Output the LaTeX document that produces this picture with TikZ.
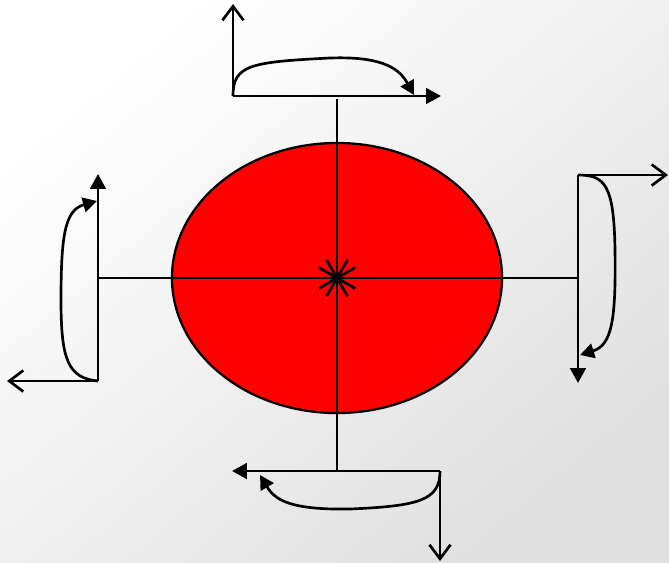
\documentclass[tikz,border=0pt]{standalone}
\usepackage{tikz}
\usetikzlibrary{arrows.meta,shapes.geometric}
\definecolor{Ink}{HTML}{000000}
\definecolor{Disc}{HTML}{FF0000}
\definecolor{BgLight}{HTML}{FFFFFF}
\definecolor{BgDark}{HTML}{E0E0E0}
\tikzset{
  axis/.style={draw=Ink,line width=1.9pt},
  disc/.style={ellipse,draw=Ink,line width=1.6pt,fill=Disc,minimum width=8.25cm,minimum height=6.75cm,inner sep=0pt},
  barArrow/.style={axis,-{Triangle[length=10.5pt,width=11pt]}},
  openArrow/.style={axis,-{Straight Barb[length=10pt,width=15pt,line width=1.9pt]}},
  turnArrow/.style={axis,-{Triangle[length=10pt,width=10.5pt]}}
}
\begin{document}
\begin{tikzpicture}[x=0.025cm,y=-0.025cm,line cap=butt]
\shade[shading=axis,top color=BgLight,bottom color=BgDark,shading angle=40] (0,0) rectangle (669,562);
\useasboundingbox (0,0) rectangle (669,562);
% body
\node[disc] (disc) at (337,278) {};
\coordinate (c) at (337,278);
% corners of the four brackets
\coordinate (topC) at (233,96);  \coordinate (topE) at (441,96);  \coordinate (topN) at (233,4);
\coordinate (rgtC) at (578,175); \coordinate (rgtE) at (578,383); \coordinate (rgtN) at (668,175);
\coordinate (botC) at (440,471); \coordinate (botE) at (232,471); \coordinate (botN) at (440,561);
\coordinate (lftC) at (98,381);  \coordinate (lftE) at (98,174);  \coordinate (lftN) at (7,381);
% axes through the centre
\draw[axis] (98,278)--(578,278);
\draw[axis] (337,99)--(337,471);
\foreach \a in {30,60,120,150}{\draw[axis] (c) ++(\a:21) -- ++(\a+180:42);}
% top
\draw[barArrow] (topC)--(topE);\draw[openArrow] (topC)--(topN);
\draw[turnArrow] (topC) .. controls (233,65) and (250,62) .. (330,58) .. controls (385,56) and (400,70) .. (414,95);
% right
\draw[barArrow] (rgtC)--(rgtE);\draw[openArrow] (rgtC)--(rgtN);
\draw[turnArrow] (rgtC) .. controls (605,175) and (614,185) .. (615,250) .. controls (616,320) and (612,345) .. (580,355);
% bottom
\draw[barArrow] (botC)--(botE);\draw[openArrow] (botC)--(botN);
\draw[turnArrow] (botC) .. controls (440,500) and (420,506) .. (350,509) .. controls (290,510) and (275,500) .. (260,475);
% left
\draw[barArrow] (lftC)--(lftE);\draw[openArrow] (lftC)--(lftN);
\draw[turnArrow] (lftC) .. controls (68,378) and (61,360) .. (61,300) .. controls (61,235) and (65,210) .. (97,201);
\end{tikzpicture}
\end{document}
